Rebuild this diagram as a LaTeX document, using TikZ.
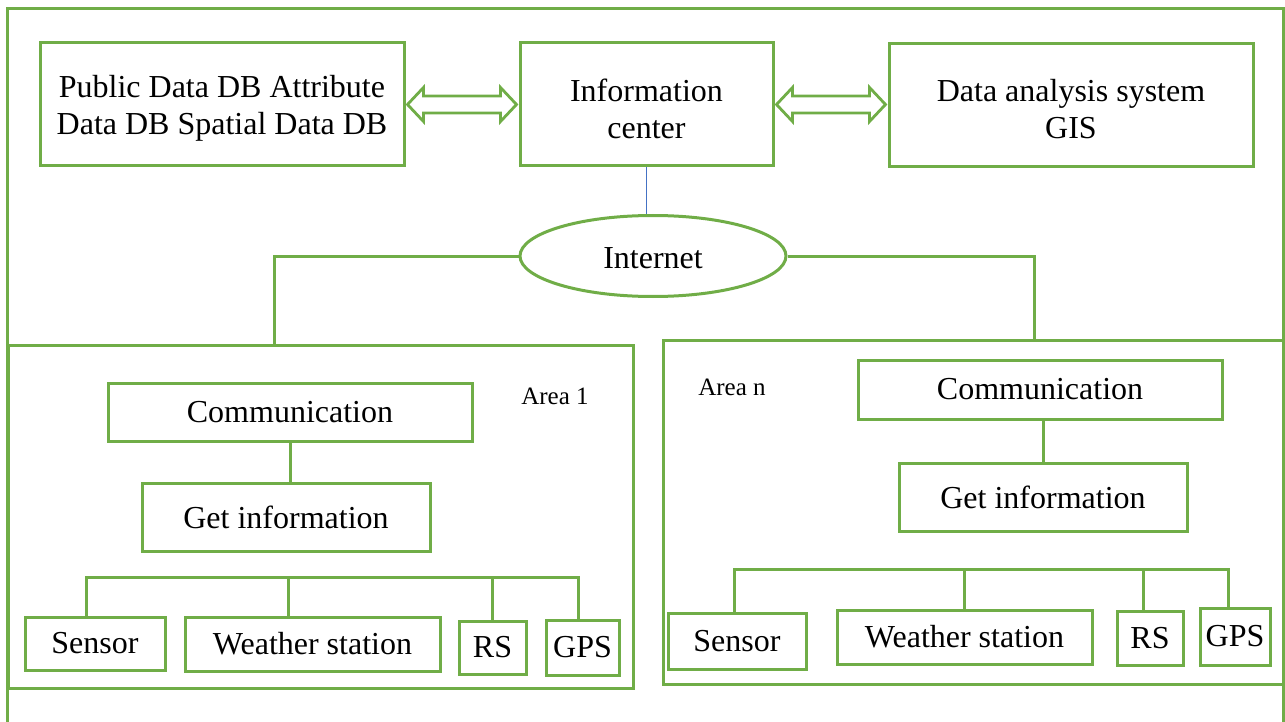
\documentclass[tikz,border=0pt]{standalone}
\usepackage{fontspec}
\setmainfont{Liberation Serif}
\usetikzlibrary{shapes.geometric,calc}
\definecolor{gr}{HTML}{70AD47}
\definecolor{bl}{HTML}{4472C4}
\tikzset{
  box/.style={draw=gr, line width=3pt, rectangle, inner sep=0pt, align=center,
              font=\fontsize{32}{37}\selectfont},
  area/.style={draw=gr, line width=3pt, rectangle, inner sep=0pt},
  wire/.style={draw=gr, line width=3pt},
  harrow/.style={draw=gr, line width=2.8pt, fill=white, line join=miter},
  lbl/.style={font=\fontsize{25}{29}\selectfont, inner sep=0pt},
}
\newcommand{\dn}[1]{\raisebox{-4pt}[\height][\depth]{#1}}
\newcommand{\hollowarrow}[2]{%
  \draw[harrow] let \p1=(#1), \p2=(#2) in
    (\x1+2pt,\y1) -- (\x1+18pt,\y1+17pt) -- (\x1+18pt,\y1+8.5pt) -- (\x2-18pt,\y1+8.5pt)
    -- (\x2-18pt,\y1+17pt) -- (\x2-2pt,\y1) -- (\x2-18pt,\y1-17pt) -- (\x2-18pt,\y1-8.5pt)
    -- (\x1+18pt,\y1-8.5pt) -- (\x1+18pt,\y1-17pt) -- cycle;}
\begin{document}
\begin{tikzpicture}[x=1pt,y=-1pt]
\useasboundingbox (0,0) rectangle (1285,722);
% outer frame
\coordinate (fbl) at (7,722);
\coordinate (ftl) at (7,9);
\coordinate (ftr) at (1283,9);
\coordinate (fbr) at (1283,722);
\draw[wire] (fbl) -- (ftl) -- (ftr) -- (fbr);

% top row
\node[box, minimum width=364, minimum height=123] (db) at (222,104.5)
  {\dn{Public Data DB Attribute}\\\dn{Data DB Spatial Data DB}};
\node[box, minimum width=253, minimum height=123] (ic) at (646.5,104.5)
  {\dn{Information}\\\dn{center}};
\node[box, minimum width=364, minimum height=123] (das) at (1071,105.5)
  {\dn{Data analysis system}\\\dn{GIS}};
\hollowarrow{db.east}{ic.west}
\hollowarrow{ic.east}{das.west}

% internet
\node[draw=gr, line width=3pt, ellipse, minimum width=266, minimum height=81, inner sep=0pt,
      font=\fontsize{32}{37}\selectfont] (inet) at (653,256) {\raisebox{-2pt}[\height][\depth]{Internet}};
\draw[bl, line width=1.4pt] (ic.south) -- (ic.south |- inet.north);

% areas
\node[area, minimum width=625, minimum height=343] (area1) at (320.5,516.5) {};
\node[area, minimum width=620, minimum height=344] (arean) at (973,512) {};
\node[lbl] (a1lbl) at (555,396) {Area 1};
\node[lbl] (anlbl) at (732,387) {Area n};

\coordinate (k1) at (274,256);
\coordinate (kn) at (1034,256);
\draw[wire] (inet.west) -- (k1) -- (k1 |- area1.north);
\draw[wire] (inet.east) -- (kn) -- (kn |- arean.north);

% area 1 content
\node[box, minimum width=364, minimum height=58] (c1) at (290,412) {Communication};
\node[box, minimum width=288, minimum height=68] (g1) at (286,517.5) {Get information};
\draw[wire] (c1.south) -- (c1.south |- g1.north);
\node[box, minimum width=140, minimum height=53] (s1) at (95,643.5) {Sensor};
\node[box, minimum width=255, minimum height=54] (w1) at (312.5,644) {Weather station};
\node[box, minimum width=67, minimum height=53] (r1) at (492.5,647.5) {RS};
\node[box, minimum width=73, minimum height=55] (p1) at (582.5,647.5) {GPS};
\coordinate (b1s) at (86,577);
\coordinate (b1w) at (288,577);
\coordinate (b1r) at (492,577);
\coordinate (b1p) at (578,577);
\draw[wire] (s1.north -| b1s) -- (b1s) -- (b1p) -- (p1.north -| b1p);
\draw[wire] (b1w) -- (w1.north -| b1w);
\draw[wire] (b1r) -- (r1.north -| b1r);

% area n content
\node[box, minimum width=364, minimum height=59] (cn) at (1040,389.5) {Communication};
\node[box, minimum width=288, minimum height=68] (gn) at (1043,497) {Get information};
\draw[wire] (cn.south -| gn.north) -- (gn.north);
\node[box, minimum width=138, minimum height=56] (sn) at (737,641) {Sensor};
\node[box, minimum width=255, minimum height=54] (wn) at (964.5,637) {Weather station};
\node[box, minimum width=66, minimum height=54] (rn) at (1150,638) {RS};
\node[box, minimum width=70, minimum height=57] (pn) at (1235,636.5) {GPS};
\coordinate (bns) at (734,569);
\coordinate (bnw) at (964,569);
\coordinate (bnr) at (1143,569);
\coordinate (bnp) at (1228,569);
\draw[wire] (sn.north -| bns) -- (bns) -- (bnp) -- (pn.north -| bnp);
\draw[wire] (bnw) -- (wn.north -| bnw);
\draw[wire] (bnr) -- (rn.north -| bnr);
\end{tikzpicture}
\end{document}
